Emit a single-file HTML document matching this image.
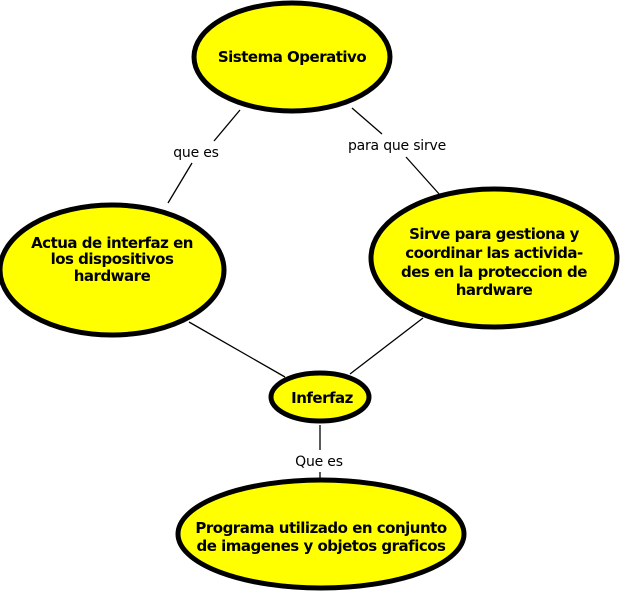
<!DOCTYPE html>
<html><head><meta charset="utf-8"><style>
html,body{margin:0;padding:0;background:#fff;}
svg{display:block;}
.b{font-family:"DejaVu Sans",sans-serif;font-weight:bold;font-size:15px;letter-spacing:-0.5px;fill:#000;}
.l{font-family:"DejaVu Sans",sans-serif;font-size:14px;letter-spacing:-0.2px;fill:#000;}
</style></head><body>
<svg width="620" height="596" viewBox="0 0 620 596" xmlns="http://www.w3.org/2000/svg">
<g stroke="#000" stroke-width="1.3">
<line x1="240" y1="110" x2="214" y2="141"/>
<line x1="192" y1="163" x2="168" y2="203"/>
<line x1="352" y1="108" x2="382" y2="134"/>
<line x1="406" y1="157" x2="440" y2="195"/>
<line x1="189" y1="322" x2="285" y2="377"/>
<line x1="423" y1="318" x2="350" y2="374"/>
<line x1="320" y1="425" x2="320" y2="450"/>
<line x1="320" y1="472" x2="320" y2="480"/>
</g>
<g fill="#ffff00" stroke="#000" stroke-width="5">
<ellipse cx="292" cy="57" rx="98" ry="54"/>
<ellipse cx="112" cy="270" rx="112" ry="65"/>
<ellipse cx="494" cy="258" rx="123" ry="69"/>
<ellipse cx="320" cy="397" rx="49" ry="24"/>
<ellipse cx="321" cy="534" rx="143" ry="54"/>
</g>
<text class="b" x="292" y="62" text-anchor="middle">Sistema Operativo</text>
<text class="b" text-anchor="middle"><tspan x="112" y="248">Actua de interfaz en</tspan><tspan x="112" y="264">los dispositivos</tspan><tspan x="112" y="281">hardware</tspan></text>
<text class="b" text-anchor="middle"><tspan x="494" y="239">Sirve para gestiona y</tspan><tspan x="494" y="258">coordinar las activida-</tspan><tspan x="494" y="277">des en la proteccion de</tspan><tspan x="494" y="295">hardware</tspan></text>
<text class="b" x="322" y="403" text-anchor="middle">Inferfaz</text>
<text class="b" text-anchor="middle"><tspan x="321" y="533">Programa utilizado en conjunto</tspan><tspan x="321" y="551">de imagenes y objetos graficos</tspan></text>
<text class="l" x="196" y="157" text-anchor="middle">que es</text>
<text class="l" x="397" y="150" text-anchor="middle">para que sirve</text>
<text class="l" x="319" y="466" text-anchor="middle">Que es</text>
</svg>
</body></html>
